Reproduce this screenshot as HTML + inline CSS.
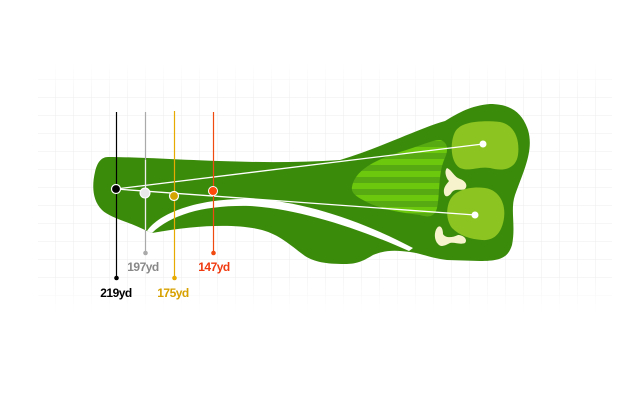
<!DOCTYPE html>
<html><head><meta charset="utf-8"><style>
html,body{margin:0;padding:0;background:#fff;}
svg{display:block}
text{font-family:"Liberation Sans",sans-serif;font-weight:bold;font-size:12px;letter-spacing:-0.5px}
</style></head><body>
<svg width="640" height="400" viewBox="0 0 640 400" xmlns="http://www.w3.org/2000/svg">
<defs>
<pattern id="g" width="18" height="18" patternUnits="userSpaceOnUse" x="2" y="8">
<path d="M18 0V18M0 18H18" fill="none" stroke="#ececec" stroke-width="1"/>
</pattern>
<linearGradient id="fade" x1="0" y1="0" x2="0" y2="1">
<stop offset="0" stop-color="#fff" stop-opacity="1"/><stop offset="0.15" stop-color="#fff" stop-opacity="0"/>
<stop offset="0.85" stop-color="#fff" stop-opacity="0"/><stop offset="1" stop-color="#fff" stop-opacity="1"/>
</linearGradient>
<pattern id="st" width="12" height="12" patternUnits="userSpaceOnUse" y="3">
<rect width="12" height="6" fill="#6cc80c"/><rect y="6" width="12" height="6" fill="#58aa12"/>
</pattern>
</defs>
<rect x="38" y="62" width="574" height="250" fill="url(#g)"/>
<rect x="38" y="62" width="574" height="250" fill="url(#fade)"/>
<path d="M108,157 C160,157 250,166 340,160 C380,148 420,128 445,121 C460,112 470,106 490,104 C510,104 522,112 528,130 C534,150 524,170 515,195 C510,210 516,225 512,245 C508,258 500,261 480,261 L447,260 C430,258 420,253 410,252 C395,250 385,250 373,255 C362,262 355,264 345,264 C325,264 315,262 305,256 C290,245 280,235 262,230 C240,224 200,224 152,233 L147,231 C130,222 110,218 102,210 C92,200 92,185 95,172 C97,163 101,157 108,157 Z" fill="#3b8b0b"/>
<path d="M147,231 C160,212 200,198 250,199 C300,200 360,220 413,248 L409,251 C360,229 300,209 250,206 C205,205 172,214 152,233 Z" fill="#fff"/>
<path d="M352,187 C355,170 375,160 400,152 C420,146 432,140 440,140 C448,142 449,150 444,160 C438,175 440,195 437,208 C435,216 430,218 420,215 C405,213 380,210 363,200 C355,196 351,192 352,187 Z" fill="url(#st)"/>
<path d="M455,132 C460,122 480,120 500,122 C515,125 520,140 518,155 C516,168 505,172 490,168 C478,166 470,172 460,168 C450,162 450,142 455,132 Z" fill="#8cc421"/>
<path d="M450,200 C455,190 470,186 485,188 C500,190 506,205 504,218 C502,232 495,241 482,240 C470,239 460,236 452,228 C446,220 446,208 450,200 Z" fill="#8cc421"/>
<path d="M447,168 C452,170 454,177 460,179 C466,181 468,186 465,189 C461,191 456,188 452,192 C449,197 445,198 444,193 C443,187 447,184 449,181 C446,178 444,171 447,168 Z M452,183 C455,184 456,187 454,188 Z" fill="#f7f3cc"/>
<path d="M437,228 C440,224 443,228 443,234 C445,238 452,238 458,235 C464,235 468,240 465,243 C460,245 455,242 450,243 C446,245 441,248 438,244 C434,240 434,232 437,228 Z" fill="#f7f3cc"/>
<line x1="116" y1="189" x2="483" y2="144" stroke="#fff" stroke-width="1.3"/>
<line x1="116" y1="189" x2="475" y2="215" stroke="#fff" stroke-width="1.3"/>
<circle cx="483" cy="144" r="3.5" fill="#fff"/>
<circle cx="475" cy="215" r="3.5" fill="#fff"/>
<line x1="116.5" y1="112" x2="116.5" y2="278" stroke="#000" stroke-width="1.2"/>
<circle cx="116.5" cy="278" r="2.3" fill="#000"/>
<circle cx="116" cy="189" r="4.5" fill="#000" stroke="#fff" stroke-width="1.2"/>
<line x1="145.5" y1="112" x2="145.5" y2="253" stroke="#aaa" stroke-width="1.2"/>
<line x1="145.5" y1="160" x2="145.5" y2="230" stroke="#eee" stroke-width="1.2"/>
<circle cx="145.5" cy="253" r="2.3" fill="#aaa"/>
<circle cx="145" cy="193" r="5" fill="#e8e8e8" stroke="#fff" stroke-width="1"/>
<line x1="174.5" y1="111" x2="174.5" y2="278" stroke="#e6aa00" stroke-width="1.2"/>
<circle cx="174.5" cy="278" r="2.3" fill="#e6aa00"/>
<circle cx="174" cy="196" r="4.5" fill="#d4a400" stroke="#fff" stroke-width="1.2"/>
<line x1="213.5" y1="112" x2="213.5" y2="253" stroke="#f04a10" stroke-width="1.2"/>
<circle cx="213.5" cy="253" r="2.3" fill="#f04a10"/>
<circle cx="213" cy="191" r="4.5" fill="#ff4a0a" stroke="#fff" stroke-width="1"/>
<text x="116" y="297" text-anchor="middle" fill="#000">219yd</text>
<text x="143" y="271" text-anchor="middle" fill="#888">197yd</text>
<text x="173" y="297" text-anchor="middle" fill="#d7a100">175yd</text>
<text x="214" y="271" text-anchor="middle" fill="#f03a10">147yd</text>
</svg>
</body></html>
